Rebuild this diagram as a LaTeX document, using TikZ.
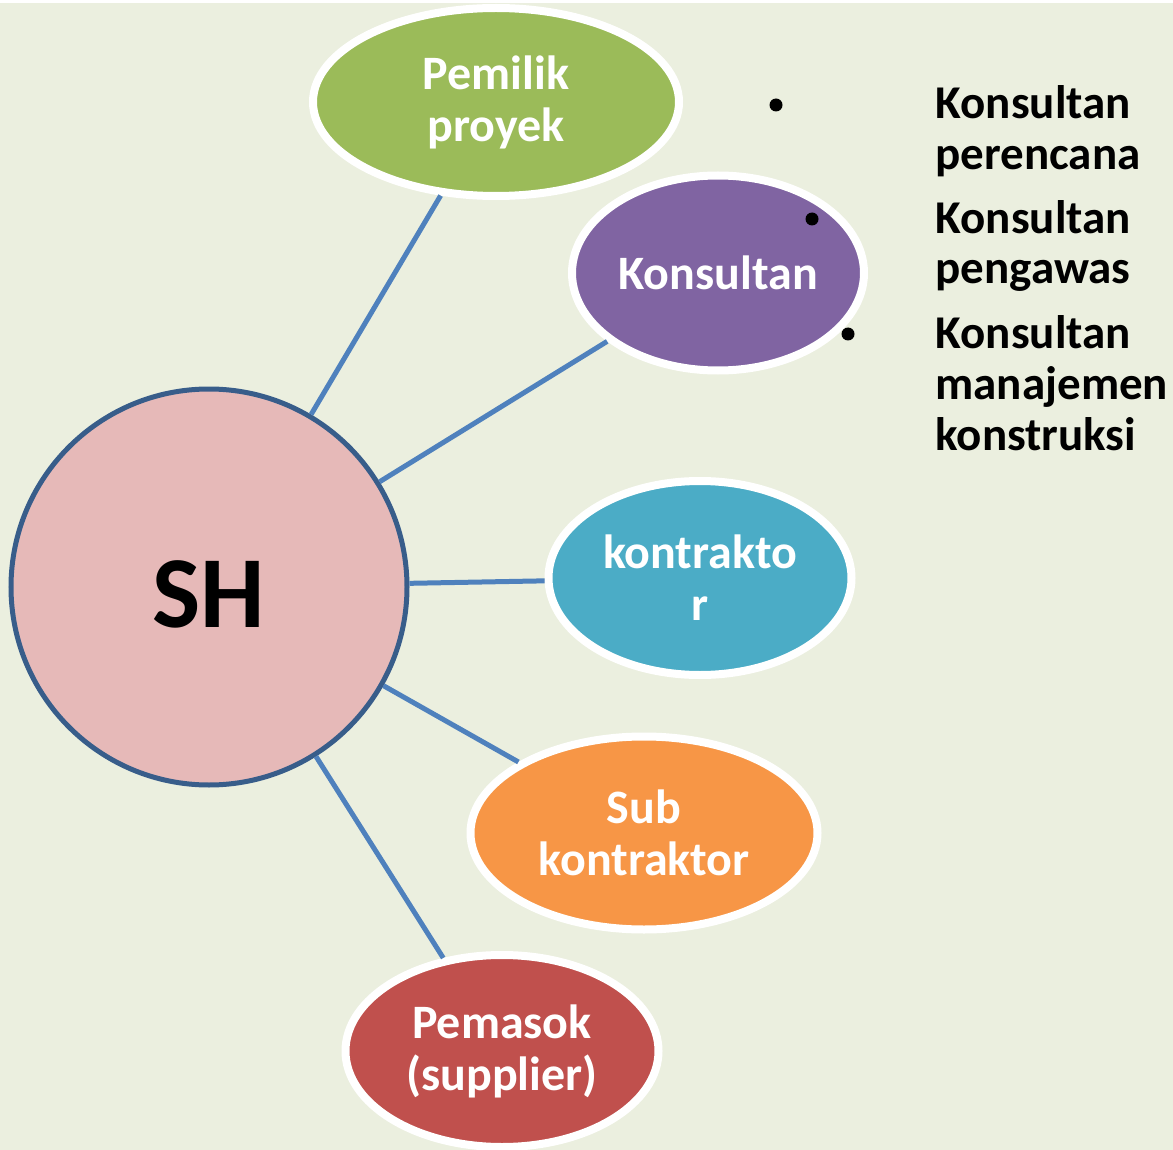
\documentclass[tikz,border=0pt]{standalone}
\usepackage{fontspec}
\setmainfont{Carlito}
\usetikzlibrary{shapes.geometric}

\definecolor{bgcol}{HTML}{EBEFDF}
\definecolor{linkblue}{HTML}{4F81BD}
\definecolor{shfill}{HTML}{E6B9B8}
\definecolor{shborder}{HTML}{385D8A}
\definecolor{ownergreen}{HTML}{9BBB59}
\definecolor{consultpurple}{HTML}{8064A2}
\definecolor{contractblue}{HTML}{4BACC6}
\definecolor{suborange}{HTML}{F79646}
\definecolor{supplyred}{HTML}{C0504D}

\begin{document}
\begin{tikzpicture}[x=1pt, y=-1pt,
    party/.style={ellipse, draw=white, line width=8pt, inner sep=0pt, text=white,
      align=center, font=\fontsize{48}{52}\selectfont\bfseries},
    link/.style={draw=linkblue, line width=5pt},
    dot/.style={circle, fill=black, inner sep=0pt, minimum size=13pt},
    item/.style={anchor=base west, align=left, font=\fontsize{47}{51}\selectfont\bfseries}]
      % Draw the background
      \fill[white] (0, 0) rectangle (1173, 1150);
      \fill[bgcol] (0, 3) rectangle (1173, 1150);
      \useasboundingbox (0, 0) rectangle (1173, 1150);
      % Draw the stakeholder circle
      \node[circle, draw=shborder, line width=5pt, fill=shfill, minimum size=396pt,
        text height=80pt, text depth=0pt,
        font=\fontsize{102}{102}\selectfont\bfseries] (sh) at (209, 587) {SH};
      % Draw the parties
      \node[party, fill=ownergreen, minimum width=366pt, minimum height=188pt] (owner) at (496, 102) {Pemilik\\proyek};
      \node[party, fill=consultpurple, minimum width=292pt, minimum height=195pt] (consult) at (718, 273) {Konsultan};
      \node[party, fill=contractblue, minimum width=303pt, minimum height=194pt] (contract) at (700, 578) {kontrakto\\r};
      \node[party, fill=suborange, minimum width=347pt, minimum height=193pt] (sub) at (644, 833) {Sub\\kontraktor};
      \node[party, fill=supplyred, minimum width=313pt, minimum height=192pt] (supply) at (502, 1051) {Pemasok\\(supplier)};
      % Draw the links
      \draw[link] (sh) -- (owner);
      \draw[link] (sh) -- (consult);
      \draw[link] (sh) -- (contract);
      \draw[link] (sh) -- (sub);
      \draw[link] (sh) -- (supply);
      % Draw the consultant list
      \node[dot] (b1) at (776, 105) {};
      \node[dot] (b2) at (812, 219) {};
      \node[dot] (b3) at (848, 334) {};
      \node[item] (k1) at (932, 170) {Konsultan\\perencana};
      \node[item] (k2) at (932, 284) {Konsultan\\pengawas};
      \node[item] (k3) at (932, 450) {Konsultan\\manajemen\\konstruksi};
\end{tikzpicture}
\end{document}
